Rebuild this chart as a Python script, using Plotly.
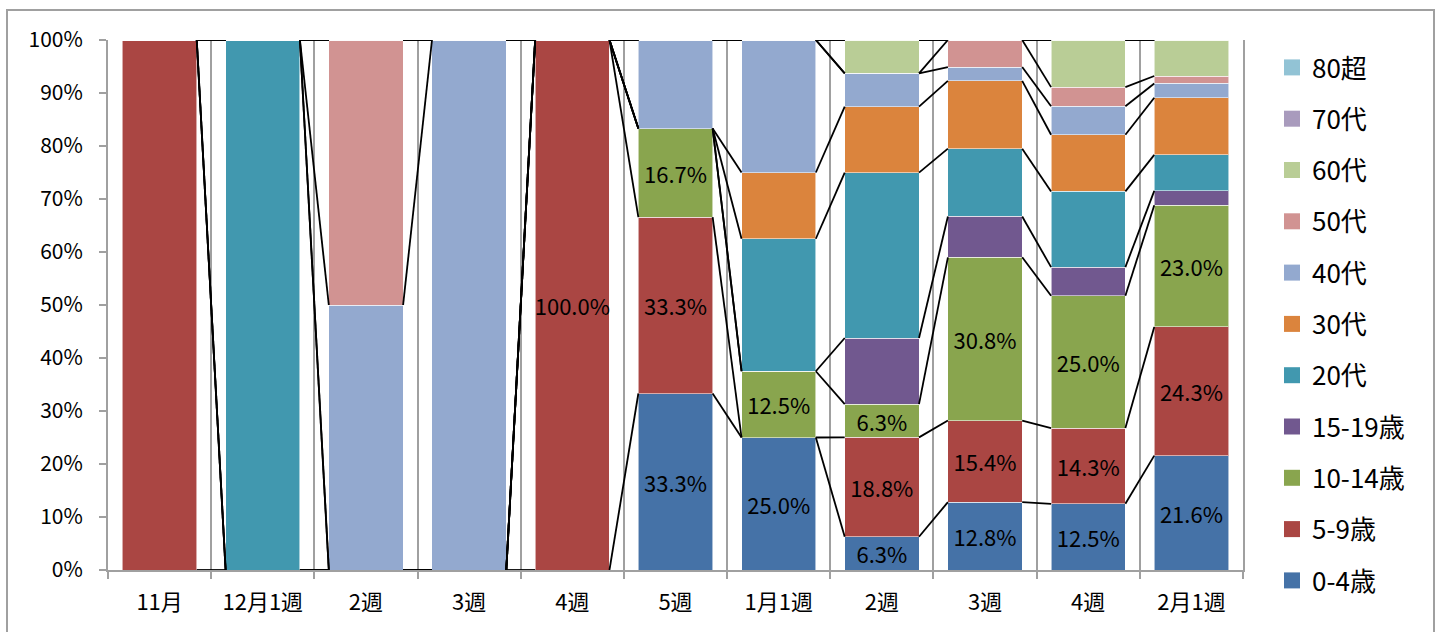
import plotly.graph_objects as go

# Reporting periods (x categories)
weeks = ["11月", "12月1週", "2週", "3週", "4週", "5週", "1月1週", "2週", "3週", "4週", "2月1週"]

# Age groups, bottom of the stack first
age_groups = ["0-4歳", "5-9歳", "10-14歳", "15-19歳", "20代", "30代",
              "40代", "50代", "60代", "70代", "80超"]

# Share of cases (%) per age group in each period
share_0_4 = [0, 0, 0, 0, 0, 33.3, 25.0, 6.3, 12.8, 12.5, 21.6]
share_5_9 = [100.0, 0, 0, 0, 100.0, 33.3, 0, 18.8, 15.4, 14.3, 24.3]
share_10_14 = [0, 0, 0, 0, 0, 16.7, 12.5, 6.3, 30.8, 25.0, 23.0]
share_15_19 = [0, 0, 0, 0, 0, 0, 0, 12.5, 7.7, 5.4, 2.7]
share_20s = [0, 100.0, 0, 0, 0, 0, 25.0, 31.3, 12.8, 14.3, 6.8]
share_30s = [0, 0, 0, 0, 0, 0, 12.5, 12.5, 12.8, 10.7, 10.8]
share_40s = [0, 0, 50.0, 100.0, 0, 16.7, 25.0, 6.3, 2.6, 5.4, 2.7]
share_50s = [0, 0, 50.0, 0, 0, 0, 0, 0, 5.1, 3.6, 1.4]
share_60s = [0, 0, 0, 0, 0, 0, 0, 6.3, 0, 8.9, 6.8]
share_70s = [0, 0, 0, 0, 0, 0, 0, 0, 0, 0, 0]
share_80s = [0, 0, 0, 0, 0, 0, 0, 0, 0, 0, 0]

shares = [share_0_4, share_5_9, share_10_14, share_15_19, share_20s, share_30s,
          share_40s, share_50s, share_60s, share_70s, share_80s]

colors = ["#4572A7", "#AA4643", "#89A54E", "#71588F", "#4198AF", "#DB843D",
          "#93A9CF", "#D19392", "#B9CD96", "#A99BBD", "#92C3D5"]

# Data labels are shown for the three youngest groups
labeled_groups = ["0-4歳", "5-9歳", "10-14歳"]
periods_without_labels = [0]

FONT = "Noto Sans CJK JP"
BARGAP = 0.28

# Pixel geometry of the plotting area
W, H = 1438, 632
L, R, T, B = 108, 195, 40, 62
PW, PH = W - L - R, H - T - B

x = list(range(len(weeks)))

fig = go.Figure()

n = len(age_groups)
for k, (name, vals, col) in enumerate(zip(age_groups, shares, colors)):
    if name in labeled_groups:
        text = ["" if (v == 0 or i in periods_without_labels) else f"{v:.1f}%"
                for i, v in enumerate(vals)]
    else:
        text = [""] * len(vals)
    fig.add_trace(go.Bar(
        x=x, y=vals, name=name,
        marker=dict(color=col, line=dict(color="rgba(255,255,255,0.55)", width=1)),
        text=text, textposition="inside", insidetextanchor="middle", textangle=0,
        textfont=dict(family=FONT, size=22, color="black"),
        legendgroup=name, showlegend=False,
        hoverinfo="skip",
    ))
    # square legend key for the age group
    fig.add_trace(go.Scatter(
        x=[None], y=[None], mode="markers", name=name,
        marker=dict(symbol="square", size=16, color=col),
        legendgroup=name, legendrank=100 + n - k, showlegend=True,
        hoverinfo="skip",
    ))

# Series lines joining the top of each age-group segment between neighbouring bars
totals = [sum(s[i] for s in shares) for i in x]
half = (1 - BARGAP) / 2
lx, ly = [], []
cum = [0.0] * len(x)
for vals in shares:
    cum = [c + v for c, v in zip(cum, vals)]
    tops = [100 * c / t for c, t in zip(cum, totals)]
    for i in range(len(x) - 1):
        lx += [x[i] + half, x[i + 1] - half, None]
        ly += [tops[i], tops[i + 1], None]

fig.add_trace(go.Scatter(x=lx, y=ly, mode="lines",
                         line=dict(color="black", width=1.8),
                         showlegend=False, hoverinfo="skip"))

def px_x(p):
    return (p - L) / PW

def px_y(p):
    return (H - B - p) / PH

fig.update_layout(
    width=W, height=H,
    margin=dict(l=L, r=R, t=T, b=B, autoexpand=False),
    barmode="stack", barnorm="percent", bargap=BARGAP,
    paper_bgcolor="white", plot_bgcolor="white",
    font=dict(family=FONT, size=20, color="black"),
    uniformtext=dict(minsize=22, mode="show"),
    showlegend=True,
    legend=dict(
        x=px_x(1272), xanchor="left",
        y=px_y(44), yanchor="top",
        maxheight=600,
        traceorder="grouped", tracegroupgap=14.5,
        font=dict(family=FONT, size=26, color="black"),
        bgcolor="rgba(0,0,0,0)",
    ),
    xaxis=dict(
        range=[-0.5, len(x) - 0.5],
        tickmode="array", tickvals=x, ticktext=weeks,
        ticks="", showgrid=False, zeroline=False,
        showline=True, linecolor="#A0A0A0", linewidth=2,
        ticklabelstandoff=12,
        tickfont=dict(family=FONT, size=22, color="black"),
        minor=dict(tickmode="linear", tick0=-0.5, dtick=1, showgrid=True,
                   gridcolor="#A0A0A0", gridwidth=2, ticks="outside",
                   ticklen=7, tickcolor="#A0A0A0", tickwidth=2),
    ),
    yaxis=dict(
        range=[0, 100], dtick=10, ticksuffix="%",
        showgrid=False, zeroline=False,
        showline=True, mirror=True, linecolor="#A0A0A0", linewidth=2,
        ticks="outside", ticklen=7, tickcolor="#A0A0A0", tickwidth=2,
        ticklabelstandoff=12,
        tickfont=dict(family=FONT, size=21, color="black"),
    ),
    shapes=[dict(type="rect", xref="paper", yref="paper",
                 x0=px_x(7), x1=px_x(1434), y0=px_y(645), y1=px_y(10),
                 line=dict(color="#A0A0A0", width=2), layer="below")],
)

fig.write_html("out.html")
